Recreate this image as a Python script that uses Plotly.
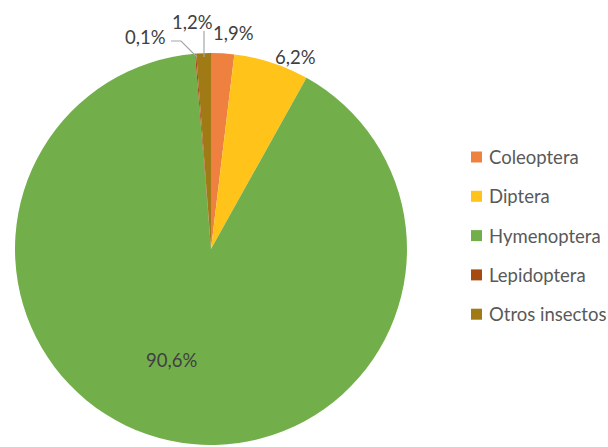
import plotly.graph_objects as go

# Insect orders and their share of visits (%)
categories = ["Coleoptera", "Diptera", "Hymenoptera", "Lepidoptera", "Otros insectos"]
shares = [1.9, 6.2, 90.6, 0.1, 1.2]
colors = ["#EE8040", "#FFC31A", "#72AF4A", "#A64A12", "#A07A14"]

W, H = 608, 447
FONT = "Lato"
FONT_SIZE = 18.5
TEXT_COLOR = "#404040"


def px(x, y):
    """Pixel position -> paper coordinates."""
    return x / W, 1 - y / H


def fmt(v):
    return f"{v:.1f}".replace(".", ",") + "%"


# Pie area (square, pixels)
cx, cy, r = 211, 249, 196
dx0, dy1 = px(cx - r, cy - r)
dx1, dy0 = px(cx + r, cy + r)

fig = go.Figure()
fig.add_trace(go.Pie(
    labels=categories,
    values=shares,
    sort=False,
    direction="clockwise",
    rotation=0,
    marker=dict(colors=colors, line=dict(width=0)),
    textinfo="none",
    hoverinfo="label+percent",
    showlegend=False,
    domain=dict(x=[dx0, dx1], y=[dy0, dy1]),
))

# Data labels (text positions in pixels)
label_pos = {
    "Coleoptera": (233, 33),
    "Diptera": (295, 57),
    "Hymenoptera": (171, 360),
    "Lepidoptera": (145, 37),
    "Otros insectos": (192, 22),
}
annotations = []
for cat, v in zip(categories, shares):
    x, y = px(*label_pos[cat])
    annotations.append(dict(
        x=x, y=y, xref="paper", yref="paper", text=fmt(v), showarrow=False,
        font=dict(family=FONT, size=FONT_SIZE, color=TEXT_COLOR),
        xanchor="center", yanchor="middle",
    ))

shapes = []
# Leader lines for the two thinnest slices
def path(points):
    pts = [px(*p) for p in points]
    d = "M " + " L ".join(f"{a},{b}" for a, b in pts)
    return dict(type="path", path=d, xref="paper", yref="paper",
                line=dict(color="#A6A6A6", width=1.2))

shapes.append(path([(171, 41), (181, 41), (197, 57)]))
shapes.append(path([(204, 31), (204, 57)]))

# Legend drawn by hand
lx, ly0, step, sq = 471, 157, 39.3, 11
for i, (cat, col) in enumerate(zip(categories, colors)):
    y = ly0 + i * step
    x0, y0 = px(lx, y - sq / 2)
    x1, y1 = px(lx + sq, y + sq / 2)
    shapes.append(dict(type="rect", xref="paper", yref="paper",
                       x0=x0, x1=x1, y0=y1, y1=y0,
                       fillcolor=col, line=dict(width=0)))
    tx, ty = px(lx + 16, y)
    annotations.append(dict(
        x=tx, y=ty, xref="paper", yref="paper", text=cat, showarrow=False,
        font=dict(family=FONT, size=FONT_SIZE, color="#595959"),
        xanchor="left", yanchor="middle",
    ))

fig.update_layout(
    width=W, height=H,
    margin=dict(l=0, r=0, t=0, b=0),
    paper_bgcolor="white", plot_bgcolor="white",
    annotations=annotations, shapes=shapes,
)

fig.write_html("out.html")
